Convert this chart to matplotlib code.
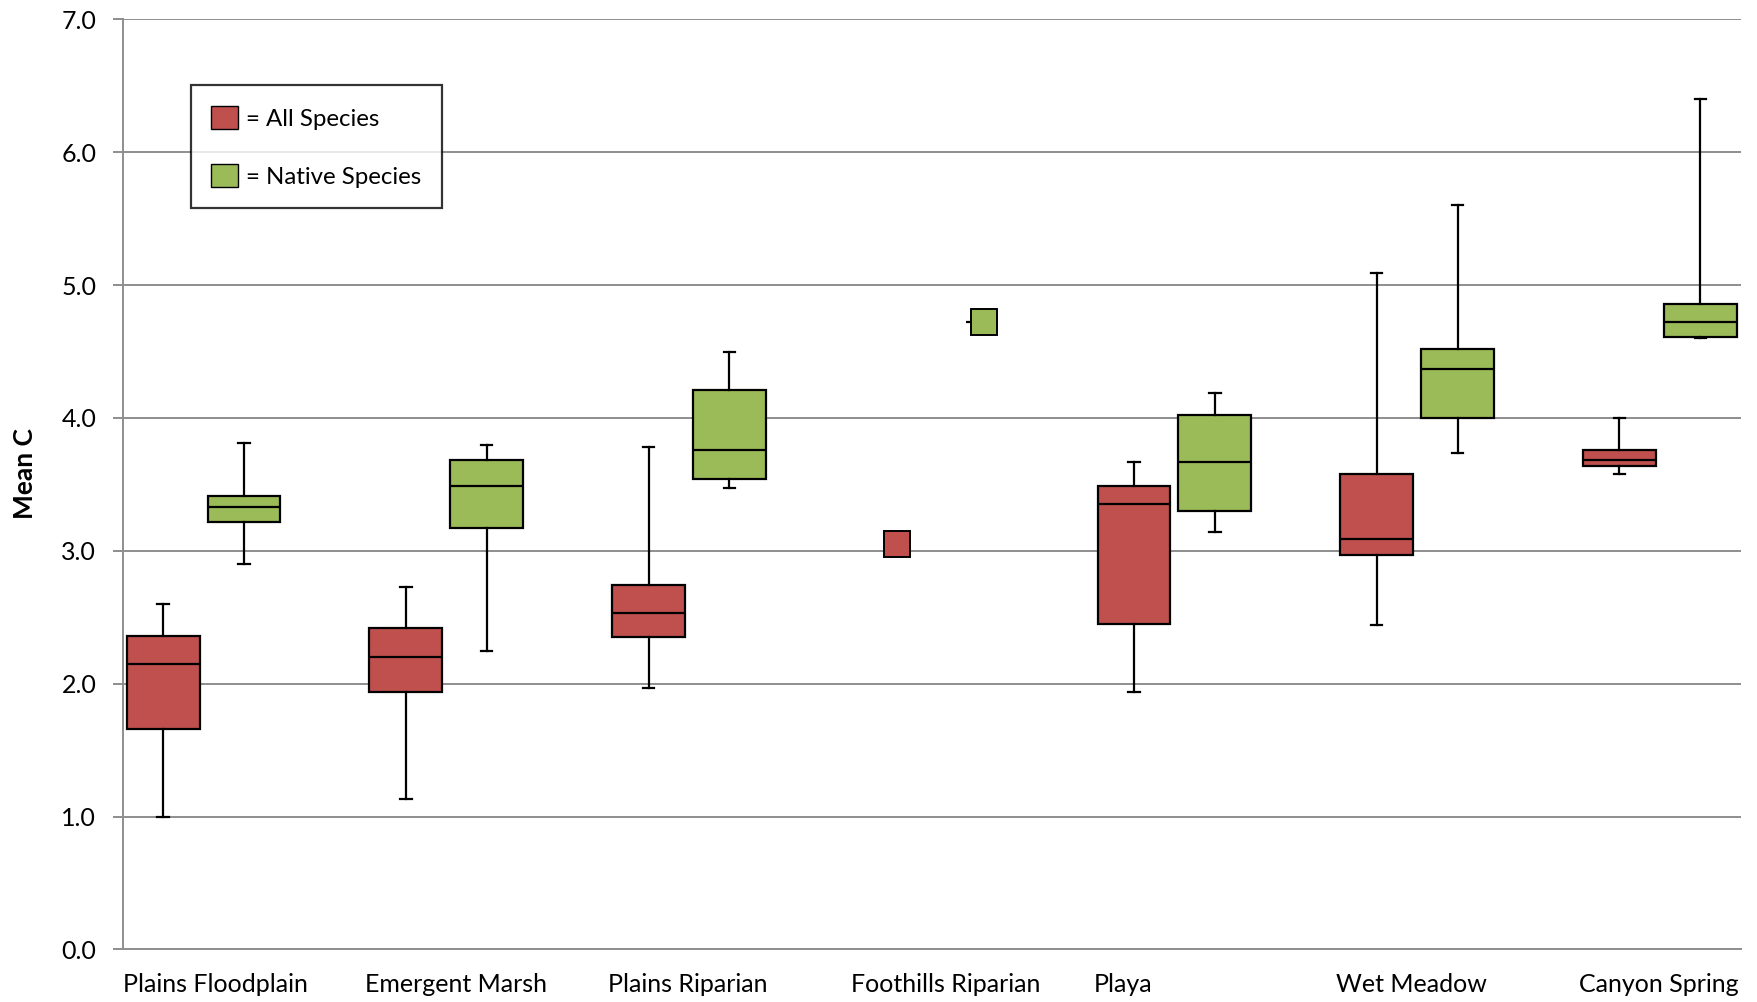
import matplotlib
matplotlib.use("Agg")
import matplotlib.pyplot as plt
import matplotlib.patches as mpatches

# ── Data ──────────────────────────────────────────────────────────────────────
HABITATS = ["Plains Floodplain", "Emergent Marsh", "Plains Riparian",
            "Foothills Riparian", "Playa", "Wet Meadow", "Canyon Spring"]

# five-number summaries (whisker low, Q1, median, Q3, whisker high)
ALL_LOW    = [1.00, 1.13, 1.97, None, 1.94, 2.44, 3.58]
ALL_Q1     = [1.66, 1.94, 2.35, None, 2.45, 2.97, 3.64]
ALL_MED    = [2.15, 2.20, 2.53, None, 3.35, 3.09, 3.68]
ALL_Q3     = [2.36, 2.42, 2.74, None, 3.49, 3.58, 3.76]
ALL_HIGH   = [2.60, 2.73, 3.78, None, 3.67, 5.09, 4.00]

NAT_LOW    = [2.90, 2.25, 3.47, None, 3.14, 3.74, 4.60]
NAT_Q1     = [3.22, 3.17, 3.54, None, 3.30, 4.00, 4.61]
NAT_MED    = [3.33, 3.49, 3.76, None, 3.67, 4.37, 4.72]
NAT_Q3     = [3.41, 3.68, 4.21, None, 4.02, 4.52, 4.86]
NAT_HIGH   = [3.81, 3.80, 4.50, None, 4.19, 5.60, 6.40]

# Foothills Riparian has a single site per group
FOOTHILLS_ALL = 3.05
FOOTHILLS_NAT = 4.72

RED   = "#C0504D"
GREEN = "#9BBB59"
GRID  = "#8E8E8E"

plt.rcParams.update({
    "font.family": ["Lato", "DejaVu Sans"],
    "font.size": 18,
})


def stats_for(low, q1, med, q3, high):
    out = []
    for i in range(len(low)):
        if low[i] is None:
            continue
        out.append(dict(whislo=low[i], q1=q1[i], med=med[i], q3=q3[i],
                        whishi=high[i], fliers=[]))
    return out


fig = plt.figure(figsize=(17.58, 10.02), dpi=100)
ax = fig.add_axes([0.0698, 0.0524, 0.9204, 0.9283])

# three slots per habitat: all species, native species, gap
idx = [i for i, v in enumerate(ALL_LOW) if v is not None]
pos_all = [3 * i for i in idx]
pos_nat = [3 * i + 1 for i in idx]

lw = 1.6
common = dict(widths=0.9, capwidths=0.14, showfliers=False, patch_artist=True,
              medianprops=dict(color="black", linewidth=lw),
              whiskerprops=dict(color="black", linewidth=lw),
              capprops=dict(color="black", linewidth=lw),
              manage_ticks=False, zorder=3)

ax.bxp(stats_for(ALL_LOW, ALL_Q1, ALL_MED, ALL_Q3, ALL_HIGH),
       positions=pos_all,
       boxprops=dict(facecolor=RED, edgecolor="black", linewidth=lw),
       **common)
ax.bxp(stats_for(NAT_LOW, NAT_Q1, NAT_MED, NAT_Q3, NAT_HIGH),
       positions=pos_nat,
       boxprops=dict(facecolor=GREEN, edgecolor="black", linewidth=lw),
       **common)

# Foothills Riparian single values as square markers
fh = HABITATS.index("Foothills Riparian")
ax.plot([3 * fh + 0.07], [FOOTHILLS_ALL], marker="s", markersize=19,
        markerfacecolor=RED, markeredgecolor="black", markeredgewidth=1.4,
        linestyle="none", zorder=4)
ax.plot([3 * fh + 1.15], [FOOTHILLS_NAT], marker="s", markersize=19,
        markerfacecolor=GREEN, markeredgecolor="black", markeredgewidth=1.4,
        linestyle="none", zorder=4)
ax.hlines(FOOTHILLS_NAT, 3 * fh + 1.15 - 0.23, 3 * fh + 1.15 - 0.16,
          color="black", linewidth=lw, zorder=3)

# ── Axes styling ──────────────────────────────────────────────────────────────
ax.set_xlim(-0.5, 19.5)
ax.set_ylim(0, 7)
ax.set_yticks([0, 1, 2, 3, 4, 5, 6, 7])
ax.set_yticklabels([f"{v:.1f}" for v in range(8)])
ax.yaxis.grid(True, color=GRID, linewidth=1.4)
ax.set_axisbelow(True)
ax.tick_params(axis="y", length=7, width=1.4, color=GRID, pad=12)

ax.set_xticks([3 * i - 0.5 for i in range(len(HABITATS))])
ax.set_xticklabels(HABITATS, ha="left")
ax.tick_params(axis="x", length=0, pad=17)

for s in ["top", "right"]:
    ax.spines[s].set_visible(False)
for s in ["left", "bottom"]:
    ax.spines[s].set_color(GRID)
    ax.spines[s].set_linewidth(1.4)

fig.text(25 / 1758, 1 - 474 / 1002, "Mean C", rotation=90, ha="center",
         va="center", fontweight="bold", fontsize=19)

handles = [mpatches.Patch(facecolor=RED, edgecolor="black", label="= All Species"),
           mpatches.Patch(facecolor=GREEN, edgecolor="black", label="= Native Species")]
leg = ax.legend(handles=handles, loc="upper left", bbox_to_anchor=(0.042, 0.929),
                frameon=True, fancybox=False, handlelength=1.1, handleheight=1.1,
                handletextpad=0.35, labelspacing=1.45, borderpad=0.85,
                borderaxespad=0, fontsize=17.3)
leg.get_frame().set_edgecolor("black")
leg.get_frame().set_linewidth(1.6)

fig.savefig("out.png", dpi=100)
